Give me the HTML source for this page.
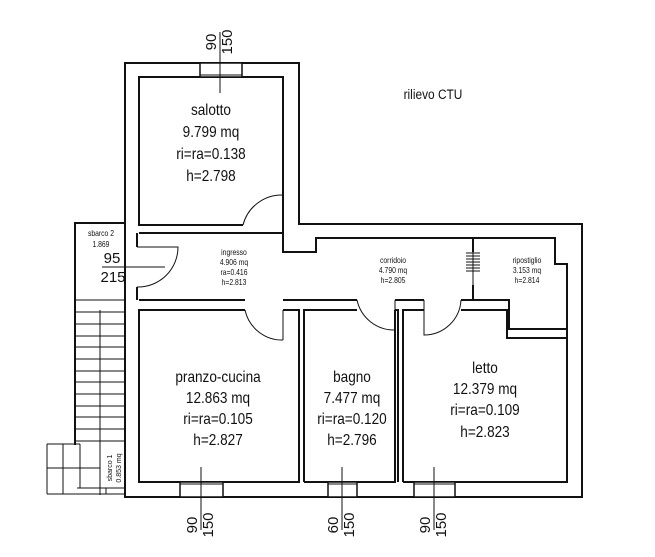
<!DOCTYPE html>
<html><head><meta charset="utf-8"><style>
html,body{margin:0;padding:0;background:#fff;}
svg{display:block;}
text{font-family:"Liberation Sans",sans-serif;fill:#111;}
</style></head><body>
<svg width="655" height="557" viewBox="0 0 655 557" xmlns="http://www.w3.org/2000/svg">
<g fill="none" stroke="#111" stroke-width="2">
<path d="M125,63 H299 V224 H582 V497 H125 Z"/>
<path d="M243,225 H139 V77 H283 V252 H316 V238 H555 V264 H567 V338"/>
<path d="M139,233 H283"/>
<path d="M137,233 V247 M137,287 V300"/>
<path d="M139,300 H245 M283,300 H357 M395,300 H424 M461,300 H509 V329 H567"/>
<path d="M473,238 V252 M473,285 V300"/>
<path d="M245,310 H139 V482 H299 V310 H283"/>
<path d="M304,482 V310 H357 M395,310 V482 H304"/>
<path d="M395,310 H398 V482"/>
<path d="M403,482 V310 H424 M461,310 H507 V338 H567 V482 H403"/>
<path d="M125,223 H75 V445"/>
</g>
<g fill="none" stroke="#111" stroke-width="1">
<path d="M243,225 A40,40 0 0 1 283,195"/>
<path d="M137,247 H178 A40,40 0 0 1 137,287"/>
<path d="M245,310 A38,38 0 0 0 283,340"/>
<path d="M357,300 A38,38 0 0 0 395,330 V300"/>
<path d="M461,300 A37,37 0 0 1 424,335 V300"/>
<path d="M283,310 V340"/>
<path d="M466,253 H480 M466,256 H480 M466,259 H480 M466,262 H480 M466,265 H480 M466,268 H480 M466,271 H480 M473,252 V285"/>
<path d="M75,300 H125 M75,312 H125 M75,324 H125 M75,336 H125 M75,347 H125 M75,359 H125 M75,371 H125 M75,382 H125 M75,394 H125 M75,406 H125 M75,417 H125 M75,429 H125 M75,441 H125"/>
<path d="M100,310 V495"/>
<path d="M47,444 H80 M47,444 V494 M63,444 V494 M80,444 V488 M47,468 H100 M47,494 H125 M77,488 H125 V494 M106,488 V494"/>
<path d="M102,267 H165"/>
<path d="M220,32 V93 M201,467 V530 M342,467 V530 M434,467 V530"/>
</g>
<g fill="#fff" stroke="#111" stroke-width="1.5">
<rect x="200" y="63" width="42" height="14"/>
<rect x="180" y="482" width="43" height="15"/>
<rect x="328" y="482" width="29" height="15"/>
<rect x="414" y="482" width="41" height="15"/>
</g>
<g stroke="#111" stroke-width="1">
<path d="M200,75 H242 M180,484 H223 M328,484 H357 M414,484 H455 M220,63 V93 M201,482 V497 M342,482 V497 M434,482 V497"/>
</g>
<g font-size="15" text-anchor="middle">
<text transform="translate(216,42) rotate(-90)">90</text>
<text transform="translate(232,42) rotate(-90)">150</text>
<text transform="translate(197,525) rotate(-90)">90</text>
<text transform="translate(213,525) rotate(-90)">150</text>
<text transform="translate(338,525) rotate(-90)">60</text>
<text transform="translate(354,525) rotate(-90)">150</text>
<text transform="translate(430,525) rotate(-90)">90</text>
<text transform="translate(446,525) rotate(-90)">150</text>
</g>
<g font-size="16" text-anchor="middle" transform="scale(0.85,1)">
<text x="248.2" y="115">salotto</text>
<text x="248.2" y="137">9.799 mq</text>
<text x="248.2" y="159">ri=ra=0.138</text>
<text x="248.2" y="181">h=2.798</text>
<text x="256.5" y="382">pranzo-cucina</text>
<text x="256.5" y="403">12.863 mq</text>
<text x="256.5" y="424">ri=ra=0.105</text>
<text x="256.5" y="445">h=2.827</text>
<text x="414.1" y="382">bagno</text>
<text x="414.1" y="403">7.477 mq</text>
<text x="414.1" y="424">ri=ra=0.120</text>
<text x="414.1" y="445">h=2.796</text>
<text x="570.6" y="373">letto</text>
<text x="570.6" y="394">12.379 mq</text>
<text x="570.6" y="415">ri=ra=0.109</text>
<text x="570.6" y="437">h=2.823</text>
<text x="509.4" y="99" font-size="14">rilievo CTU</text>
</g>
<g font-size="8" text-anchor="middle" transform="scale(0.85,1)">
<text x="118.8" y="236">sbarco 2</text>
<text x="118.8" y="247">1.869</text>
<text x="275.3" y="255">ingresso</text>
<text x="275.3" y="265">4.906 mq</text>
<text x="275.3" y="275">ra=0.416</text>
<text x="275.3" y="285">h=2.813</text>
<text x="462.4" y="263">corridoio</text>
<text x="462.4" y="273">4.790 mq</text>
<text x="462.4" y="283">h=2.805</text>
<text x="620" y="263">ripostiglio</text>
<text x="620" y="273">3.153 mq</text>
<text x="620" y="283">h=2.814</text>
</g>
<g font-size="7" text-anchor="middle">
<text transform="translate(112,468) rotate(-90)">sbarco 1</text>
<text transform="translate(121,468) rotate(-90)">0.853 mq</text>
</g>
<g font-size="15" text-anchor="middle">
<text x="112" y="263">95</text>
<text x="113" y="282">215</text>
</g>
</svg>
</body></html>
